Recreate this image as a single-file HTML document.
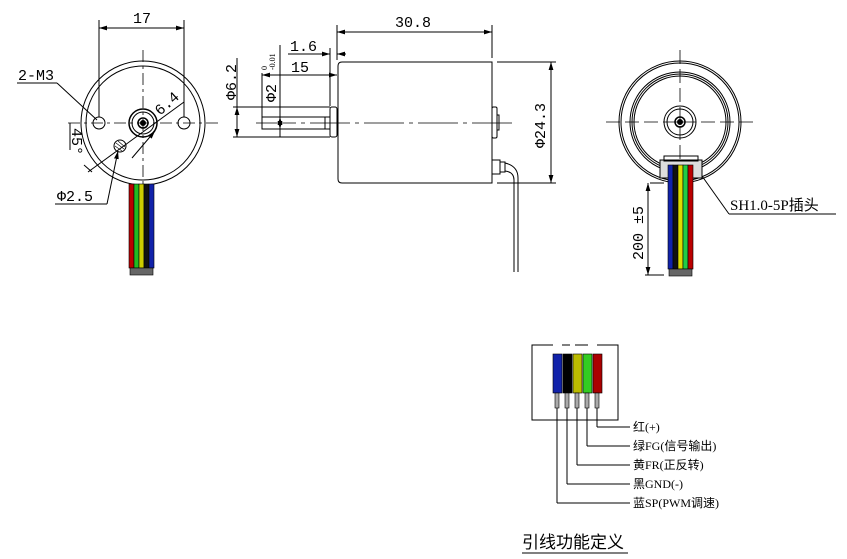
<!DOCTYPE html>
<html><head><meta charset="utf-8"><style>
html,body{margin:0;padding:0;background:#fff;width:847px;height:559px;overflow:hidden}
svg{display:block}
text{font-family:"Liberation Serif","Noto Serif CJK SC",serif;fill:#000}
.m{font-family:"Liberation Mono","Noto Serif CJK SC",monospace}
.c{font-family:"Liberation Serif","Noto Sans CJK SC",sans-serif}
</style></head><body>
<svg width="847" height="559" viewBox="0 0 847 559" xmlns="http://www.w3.org/2000/svg">
<defs>
<marker id="a" viewBox="0 0 10 6" refX="10" refY="3" markerWidth="8" markerHeight="5" orient="auto-start-reverse"><path d="M0,0L10,3L0,6z" fill="#000"/></marker>
</defs>
<g stroke="#000" fill="none" stroke-width="1">
<!-- LEFT VIEW -->
<circle cx="143" cy="123" r="62"/>
<circle cx="143" cy="123" r="57"/>
<line x1="143" y1="50" x2="143" y2="190" stroke-dasharray="12,4,3,4" stroke-width="0.8"/>
<line x1="68" y1="123" x2="218" y2="123" stroke-dasharray="12,4,3,4" stroke-width="0.8"/>
<circle cx="99" cy="123" r="6"/>
<circle cx="184" cy="123" r="6"/>
<circle cx="143" cy="123" r="14" stroke-width="1.5"/>
<circle cx="143" cy="123" r="11"/>
<circle cx="143" cy="123" r="5" stroke-width="1.5"/>
<circle cx="143" cy="123" r="2.5" fill="#000"/>
<circle cx="120" cy="146" r="6"/>
<line x1="116" y1="143" x2="124" y2="149" stroke-width="0.6"/><line x1="115" y1="146" x2="122" y2="151" stroke-width="0.6"/><line x1="118" y1="141" x2="125" y2="147" stroke-width="0.6"/>
<line x1="99" y1="20" x2="99" y2="117"/>
<line x1="184" y1="20" x2="184" y2="117"/>
<line x1="99" y1="28" x2="184" y2="28" marker-start="url(#a)" marker-end="url(#a)"/>
<line x1="17" y1="83" x2="57" y2="83"/>
<line x1="57" y1="83" x2="97" y2="120"/>
<line x1="55" y1="204" x2="107" y2="204"/>
<line x1="107" y1="204" x2="118" y2="151" marker-end="url(#a)"/>
<line x1="88" y1="172" x2="184" y2="102"/>
<line x1="132" y1="158" x2="155" y2="131" marker-end="url(#a)"/>
<line x1="84" y1="165" x2="92" y2="172"/>
<line x1="70" y1="123" x2="70" y2="150" />
<!-- MIDDLE VIEW -->
<path d="M342,62H492V183H342Q338,183 338,179V66Q338,62 342,62Z"/>
<rect x="330" y="107" width="7" height="30" rx="2"/>
<rect x="262" y="117" width="68" height="12"/>
<line x1="325" y1="117" x2="325" y2="129"/>
<line x1="256" y1="123" x2="515" y2="123" stroke-dasharray="40,5,4,5" stroke-width="0.8"/>
<rect x="492" y="107" width="5" height="31" rx="1.5"/>
<rect x="497" y="115" width="2" height="15"/>
<rect x="492" y="160" width="8" height="14"/>
<rect x="500" y="162" width="5" height="10"/>
<path d="M505,163 Q518,166 518,178 V272"/>
<path d="M505,171 Q514,172 514,180 V272"/>
<line x1="337" y1="25" x2="337" y2="60"/>
<line x1="492" y1="25" x2="492" y2="58"/>
<line x1="337" y1="32" x2="492" y2="32" marker-start="url(#a)" marker-end="url(#a)"/>
<line x1="330" y1="48" x2="330" y2="106"/>
<line x1="288" y1="54" x2="330" y2="54" marker-end="url(#a)"/>
<line x1="346" y1="54" x2="337" y2="54" marker-end="url(#a)"/>
<line x1="262" y1="73" x2="262" y2="117"/>
<line x1="262" y1="75" x2="337" y2="75" marker-start="url(#a)" marker-end="url(#a)"/>
<line x1="233" y1="107" x2="330" y2="107"/>
<line x1="233" y1="137" x2="330" y2="137"/>
<line x1="237" y1="58" x2="237" y2="137"/>
<line x1="237" y1="107" x2="237" y2="137" marker-start="url(#a)" marker-end="url(#a)"/>
<line x1="280" y1="45" x2="280" y2="137"/>
<line x1="280" y1="117" x2="280" y2="129" marker-start="url(#a)" marker-end="url(#a)"/>
<line x1="497" y1="62" x2="556" y2="62"/>
<line x1="497" y1="183" x2="556" y2="183"/>
<line x1="551" y1="62" x2="551" y2="183" marker-start="url(#a)" marker-end="url(#a)"/>
<!-- RIGHT VIEW -->
<circle cx="680" cy="122" r="61"/>
<circle cx="680" cy="122" r="59"/>
<circle cx="680" cy="122" r="50"/>
<circle cx="680" cy="122" r="48"/>
<circle cx="680" cy="122" r="46"/>
<circle cx="680" cy="122" r="16"/>
<circle cx="680" cy="122" r="13"/>
<circle cx="680" cy="122" r="5" stroke-width="1.5"/>
<circle cx="680" cy="122" r="2.5" fill="#000"/>
<line x1="680" y1="50" x2="680" y2="160" stroke-dasharray="14,5" stroke-width="0.8"/>
<line x1="606" y1="122" x2="754" y2="122" stroke-dasharray="14,5" stroke-width="0.8"/>
<rect x="660" y="160" width="42" height="18" fill="#ddd"/>
<rect x="664" y="156" width="34" height="5"/>
<line x1="664" y1="183" x2="650" y2="183"/>
<line x1="664" y1="275" x2="645" y2="275"/>
<line x1="648" y1="183" x2="648" y2="275" marker-start="url(#a)" marker-end="url(#a)"/>
<line x1="702" y1="176" x2="729" y2="214"/>
<line x1="729" y1="214" x2="836" y2="214"/>
<!-- LEAD BOX -->
<path d="M553,345H532V420H618V345H597" />
<line x1="562" y1="345" x2="570" y2="345"/><line x1="575" y1="345" x2="588" y2="345"/>
<line x1="557" y1="408" x2="557" y2="503"/><line x1="557" y1="503" x2="630" y2="503"/>
<line x1="567" y1="408" x2="567" y2="484"/><line x1="567" y1="484" x2="630" y2="484"/>
<line x1="577" y1="408" x2="577" y2="465"/><line x1="577" y1="465" x2="630" y2="465"/>
<line x1="587" y1="408" x2="587" y2="446"/><line x1="587" y1="446" x2="630" y2="446"/>
<line x1="597" y1="408" x2="597" y2="427"/><line x1="597" y1="427" x2="630" y2="427"/>
<line x1="522" y1="553" x2="628" y2="553"/>
</g>
<g stroke="#000" stroke-width="0.6">
<rect x="129" y="184" width="5" height="84" fill="#b00"/>
<rect x="134" y="184" width="5" height="84" fill="#2b2"/>
<rect x="139" y="184" width="5" height="84" fill="#cc0"/>
<rect x="144" y="184" width="5" height="84" fill="#111"/>
<rect x="149" y="184" width="5" height="84" fill="#12a"/>
<rect x="130" y="268" width="23" height="7" fill="#666"/>
<rect x="668" y="165" width="5" height="104" fill="#12a"/>
<rect x="673" y="165" width="5" height="104" fill="#111"/>
<rect x="678" y="165" width="5" height="104" fill="#dd0"/>
<rect x="683" y="165" width="5" height="104" fill="#2c4"/>
<rect x="688" y="165" width="5" height="104" fill="#b00"/>
<rect x="669" y="269" width="23" height="7" fill="#666"/>
<rect x="553" y="354" width="9" height="39" fill="#12a"/>
<rect x="563" y="354" width="9" height="39" fill="#000"/>
<rect x="573" y="354" width="9" height="39" fill="#bb0"/>
<rect x="583" y="354" width="9" height="39" fill="#3c2"/>
<rect x="593" y="354" width="9" height="39" fill="#a00"/>
<rect x="555" y="393" width="4" height="15" fill="#aaa"/>
<rect x="565" y="393" width="4" height="15" fill="#aaa"/>
<rect x="575" y="393" width="4" height="15" fill="#aaa"/>
<rect x="585" y="393" width="4" height="15" fill="#aaa"/>
<rect x="595" y="393" width="4" height="15" fill="#aaa"/>
</g>
<g font-size="15" class="m">
<text x="133" y="23" class="m">17</text>
<text x="18" y="80" class="m">2-M3</text>
<text x="57" y="201" class="m">Φ2.5</text>
<text x="0" y="0" class="m" transform="translate(160,116) rotate(-42)">6.4</text>
<text x="0" y="0" class="m" transform="translate(72,128) rotate(90)">45°</text>
<text x="395" y="27" class="m">30.8</text>
<text x="290" y="51" class="m">1.6</text>
<text x="291" y="72" class="m">15</text>
<text x="0" y="0" class="m" transform="translate(236,100) rotate(-90)">Φ6.2</text>
<text x="0" y="0" class="m" transform="translate(276,102) rotate(-90)">Φ2</text>
<text x="0" y="0" font-size="8" transform="translate(267,70) rotate(-90)">0</text>
<text x="0" y="0" font-size="8" transform="translate(275,70) rotate(-90)">-0.01</text>
<text x="0" y="0" class="m" transform="translate(545,148) rotate(-90)">Φ24.3</text>
<text x="0" y="0" class="m" transform="translate(643,260) rotate(-90)">200 ±5</text>
</g>
<text x="730" y="210" font-size="15" class="c">SH1.0-5P插头</text>
<g font-size="12" class="c">
<text x="633" y="431" class="c">红(+)</text>
<text x="633" y="450" class="c">绿FG(信号输出)</text>
<text x="633" y="469" class="c">黄FR(正反转)</text>
<text x="633" y="488" class="c">黑GND(-)</text>
<text x="633" y="507" class="c">蓝SP(PWM调速)</text>
</g>
<text x="522" y="548" font-size="17" class="c">引线功能定义</text>
</svg>
</body></html>
